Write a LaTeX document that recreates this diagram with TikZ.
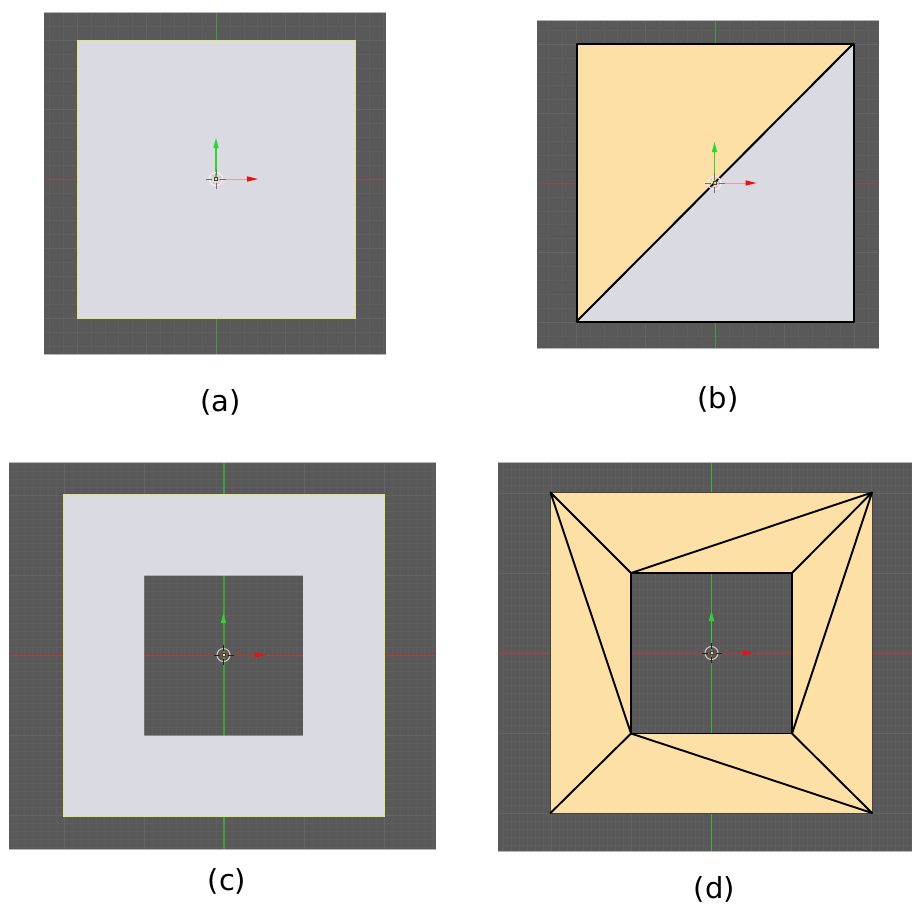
\documentclass[tikz,border=0pt]{standalone}
\usepackage{fontspec}
\setmainfont{DejaVu Sans}
\definecolor{bgdark}{HTML}{595959}
\definecolor{gridminor}{HTML}{5E5E5E}
\definecolor{gridmajor}{HTML}{646464}
\definecolor{panelrim}{HTML}{B5B5B5}
\definecolor{facegrey}{HTML}{DADAE3}
\definecolor{faceorange}{HTML}{FDE0A6}
\definecolor{edgeyellow}{HTML}{E6E27A}
\definecolor{axgreen}{HTML}{2FD52F}
\definecolor{axgreendark}{HTML}{3F9F3F}
\definecolor{axgreenmid}{HTML}{3CB53C}
\definecolor{axred}{HTML}{EE1010}
\definecolor{axreddark}{HTML}{8F4A4A}
\definecolor{axredmid}{HTML}{B83A3A}
\definecolor{shaftpink}{HTML}{EA9C9C}
\definecolor{shaftred}{HTML}{C43030}
\definecolor{ringsoft}{HTML}{F2F2F5}
\definecolor{ringstrong}{HTML}{C8C8C8}
\definecolor{dashsoft}{HTML}{EDB0B0}
\definecolor{dashstrong}{HTML}{A03030}
\definecolor{crosssoft}{HTML}{707070}
\definecolor{crossstrong}{HTML}{222222}
\definecolor{rimdark}{HTML}{707070}
\definecolor{centredge}{HTML}{444444}
\tikzset{
  caption/.style={font=\fontsize{29}{32}\selectfont,text=black,inner sep=0pt,anchor=center},
  meshedge/.style={draw=black,line width=1.9pt,line join=round,line cap=round},
  selectedge/.style={draw=edgeyellow,line width=0.8pt},
  gridfine/.style={draw=gridminor,line width=0.5pt},
  gridbold/.style={draw=gridmajor,line width=0.8pt},
}
% #1 left, #2 top, #3 right, #4 bottom, #5 centre x, #6 centre y, #7 minor step, #8 major multiple, #9 green axis width
\newcommand{\viewpanel}[9]{%
  \fill[bgdark] (#1,#2) rectangle (#3,#4);
  \begin{scope}
    \clip (#1,#2) rectangle (#3,#4);
    \foreach \k in {-32,...,32}{
      \draw[gridfine] ({#5+\k*#7},#2) -- ({#5+\k*#7},#4);
      \draw[gridfine] (#1,{#6+\k*#7}) -- (#3,{#6+\k*#7});
    }
    \foreach \k in {-6,...,6}{
      \draw[gridbold] ({#5+\k*#8*#7},#2) -- ({#5+\k*#8*#7},#4);
      \draw[gridbold] (#1,{#6+\k*#8*#7}) -- (#3,{#6+\k*#8*#7});
    }
    \draw[\pgreen,line width=#9pt] (#5,#2) -- (#5,#4);
    \draw[\pred,line width=0.7pt] (#1,#6) -- (#3,#6);
  \end{scope}
  \draw[panelrim,line width=0.7pt] (#1,#2) -- (#3,#2) (#1,#4) -- (#3,#4);
}
% #1 x, #2 y, #3 green length, #4 red length
\newcommand{\gizmo}[4]{%
  \draw[\gshaftg,line width=1.1pt] (#1,#2) -- (#1,{#2-#3+8});
  \fill[axgreen] ({#1-2.7},{#2-#3+10}) -- (#1,{#2-#3}) -- ({#1+2.7},{#2-#3+10}) -- cycle;
  \draw[\gshaftr,line width=1pt] (#1,#2) -- ({#1+#4-8},#2);
  \fill[axred] ({#1+#4-11},{#2-2.7}) -- ({#1+#4},#2) -- ({#1+#4-11},{#2+2.7}) -- cycle;
  \draw[\gring,line width=1.1pt] (#1,#2) circle (6.5);
  \draw[\gdash,line width=1pt,dash pattern=on 2pt off 2.5pt] (#1,#2) circle (5);
  \draw[\gcross,line width=0.9pt] ({#1-10},#2) -- ({#1-4},#2) ({#1+4},#2) -- ({#1+10},#2)
     (#1,{#2-10}) -- (#1,{#2-4}) (#1,{#2+4}) -- (#1,{#2+10});
  \fill[edgeyellow,draw=centredge,line width=0.4pt] ({#1-1.5},{#2-1.5}) rectangle ({#1+1.5},{#2+1.5});
}
\newcommand{\softgizmo}{%
  \def\gshaftg{axgreen}\def\gshaftr{shaftpink}%
  \def\gring{ringsoft}\def\gdash{dashsoft}\def\gcross{crosssoft}}
\newcommand{\stronggizmo}[1]{%
  \def\gshaftg{#1}\def\gshaftr{shaftred}%
  \def\gring{ringstrong}\def\gdash{dashstrong}\def\gcross{crossstrong}}
\begin{document}
\begin{tikzpicture}[x=1pt,y=-1pt]
\useasboundingbox (0,0) rectangle (912,905);
\fill[white] (0,0) rectangle (912,905);

% (a)
\def\pgreen{axgreendark}\def\pred{axreddark}
\viewpanel{44}{12}{386}{354}{216}{179}{13.9}{5}{0.9}
\fill[facegrey] (77.5,40.5) rectangle (355.5,318);
\draw[selectedge] (77.5,40.5) rectangle (355.5,318);
\softgizmo
\gizmo{216}{179}{41}{42}
\node[caption] (capa) at (220.5,402) {(a)};

% (b)
\viewpanel{537}{20.5}{879}{348}{715}{183}{13.9}{5}{0.9}
\fill[facegrey] (576.5,43.5) rectangle (853.5,321.5);
\fill[faceorange] (576.5,43.5) -- (853.5,43.5) -- (576.5,321.5) -- cycle;
\draw[meshedge,line width=2pt] (576.5,43.5) rectangle (853.5,321.5);
\draw[meshedge,line width=2pt] (576.5,321.5) -- (853.5,43.5);
\softgizmo
\gizmo{714.5}{183}{41}{42}
\node[caption] (capb) at (718,399) {(b)};

% (c)
\def\pred{axredmid}
\viewpanel{9}{462}{436}{849}{224}{655}{8}{10}{1.4}
\fill[facegrey,even odd rule] (63,494.5) rectangle (384.5,816) (144,575.5) rectangle (303,735.5);
\draw[selectedge] (63,494.5) rectangle (384.5,816);
\stronggizmo{axgreendark}
\gizmo{223.5}{655}{42}{42}
\node[caption] (capc) at (227,881) {(c)};

% (d)
\def\pgreen{axgreenmid}
\viewpanel{497.5}{462}{912}{851}{711.5}{653}{8}{10}{1}
\fill[faceorange,even odd rule] (550.5,492.5) rectangle (872,813) (631,573) rectangle (792,733.5);
\draw[centredge,line width=0.4pt] (550.5,492.5) rectangle (872,813);
\draw[meshedge] (631,573) rectangle (792,733.5);
\draw[meshedge] (550.5,492.5) -- (631,573)
  (550.5,492.5) -- (631,733.5)
  (550.5,813) -- (631,733.5)
  (872,492.5) -- (631,573)
  (872,492.5) -- (792,573)
  (872,492.5) -- (792,733.5)
  (872,813) -- (792,733.5)
  (872,813) -- (631,733.5);
\stronggizmo{axgreen}
\gizmo{711.5}{653}{42}{42}
\node[caption] (capd) at (714.5,889) {(d)};
\end{tikzpicture}
\end{document}
